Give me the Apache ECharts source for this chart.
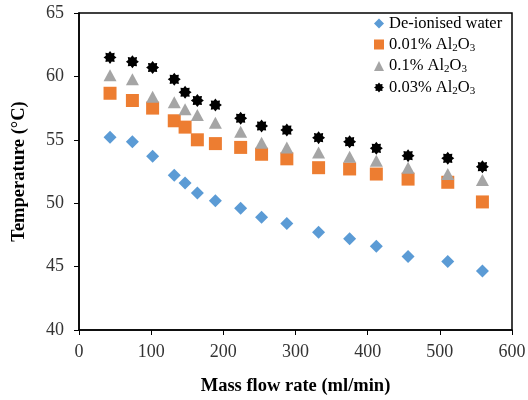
<!DOCTYPE html>
<html><head><meta charset="utf-8">
<script src="https://cdn.jsdelivr.net/npm/echarts@6/dist/echarts.min.js"></script>
<style>html,body{margin:0;padding:0;background:#fff}#c{width:528px;height:400px}</style>
</head><body><div id="c"></div>
<script>
const flowRate = [43, 74, 102, 132, 147, 164, 189, 224, 253, 288, 332, 375, 412, 456, 511, 559];
const water   = [55.2, 54.85, 53.7, 52.2, 51.6, 50.8, 50.2, 49.6, 48.9, 48.4, 47.7, 47.2, 46.6, 45.8, 45.4, 44.65];
const al001   = [58.67, 58.1, 57.5, 56.5, 56.0, 55.0, 54.7, 54.4, 53.86, 53.5, 52.8, 52.7, 52.3, 51.9, 51.65, 50.1];
const al01    = [60.1, 59.77, 58.4, 57.96, 57.4, 56.96, 56.35, 55.64, 54.77, 54.4, 54.0, 53.67, 53.35, 52.8, 52.3, 51.83];
const al003   = [61.5, 61.16, 60.7, 59.77, 58.75, 58.1, 57.74, 56.7, 56.09, 55.77, 55.17, 54.85, 54.33, 53.75, 53.54, 52.88];
const seriesNames = ['De-ionised water', '0.01% Al2O3', '0.1% Al2O3', '0.03% Al2O3'];
const xTicks = [0, 100, 200, 300, 400, 500, 600];
const yTicks = [40, 45, 50, 55, 60, 65];

function starPath(n, r1, r2) {
  let p = [];
  for (let k = 0; k < 2 * n; k++) {
    const a = Math.PI * k / n - Math.PI / 2;
    const r = k % 2 === 0 ? r1 : r2;
    p.push((k ? 'L' : 'M') + (r * Math.cos(a)).toFixed(3) + ' ' + (r * Math.sin(a)).toFixed(3));
  }
  return 'path://' + p.join(' ') + ' Z';
}
const STAR = starPath(8, 10, 7);
const pair = arr => flowRate.map((x, i) => [x, arr[i]]);
const FONT = 'Liberation Serif';

const chart = echarts.init(document.getElementById('c'), null, {renderer: 'canvas'});
chart.setOption({
  animation: false,
  backgroundColor: '#fff',
  grid: {left: 79, right: 16, top: 13, bottom: 70, show: true, borderColor: '#000', borderWidth: 1.5, containLabel: false, outerBoundsMode: 'none'},
  xAxis: {
    type: 'value', min: xTicks[0], max: xTicks[xTicks.length - 1], interval: 100,
    name: 'Mass flow rate (ml/min)', nameLocation: 'middle', nameGap: 47,
    nameTextStyle: {fontFamily: FONT, fontWeight: 'bold', fontSize: 18.5, color: '#000'},
    axisLine: {show: true, lineStyle: {color: '#000', width: 1.5}},
    axisTick: {show: true, inside: false, length: 5, lineStyle: {color: '#000'}},
    axisLabel: {fontFamily: FONT, fontSize: 18, color: '#333', margin: 13},
    splitLine: {show: false}
  },
  yAxis: {
    type: 'value', min: yTicks[0], max: yTicks[yTicks.length - 1], interval: 5,
    name: 'Temperature (°C)', nameLocation: 'middle', nameGap: 50, nameRotate: 90,
    nameTextStyle: {fontFamily: FONT, fontWeight: 'bold', fontSize: 18.5, color: '#000'},
    axisLine: {show: true, lineStyle: {color: '#000', width: 1.5}},
    axisTick: {show: true, inside: false, length: 5, lineStyle: {color: '#000'}},
    axisLabel: {fontFamily: FONT, fontSize: 18, color: '#333', margin: 15},
    splitLine: {show: false}
  },
  legend: {
    orient: 'vertical', left: 374, top: 15, padding: 0, itemGap: 4, itemWidth: 10, itemHeight: 10,
    textStyle: {fontFamily: FONT, fontSize: 16.5, color: '#000',
      rich: {n: {fontFamily: FONT, fontSize: 16.5, color: '#000'},
             s: {fontFamily: FONT, fontSize: 11, color: '#000', verticalAlign: 'bottom', padding: [7, 0, 0, 0]}}},
    formatter: name => {
      if (name.indexOf('Al2O3') < 0) return '{n|' + name + '}';
      const pre = name.replace('Al2O3', '');
      return '{n|' + pre + 'Al}{s|2}{n|O}{s|3}';
    },
    data: seriesNames
  },
  series: [
    {name: seriesNames[0], type: 'scatter', symbol: 'diamond', symbolSize: 13, itemStyle: {color: '#5B9BD5', opacity: 1}, data: pair(water)},
    {name: seriesNames[1], type: 'scatter', symbol: 'rect', symbolSize: 13, itemStyle: {color: '#ED7D31', opacity: 1}, data: pair(al001)},
    {name: seriesNames[2], type: 'scatter', symbol: 'triangle', symbolSize: [13, 12], itemStyle: {color: '#A5A5A5', opacity: 1}, data: pair(al01)},
    {name: seriesNames[3], type: 'scatter', symbol: STAR, symbolSize: 13, itemStyle: {color: '#000', opacity: 1}, data: pair(al003)}
  ]
});
</script></body></html>
